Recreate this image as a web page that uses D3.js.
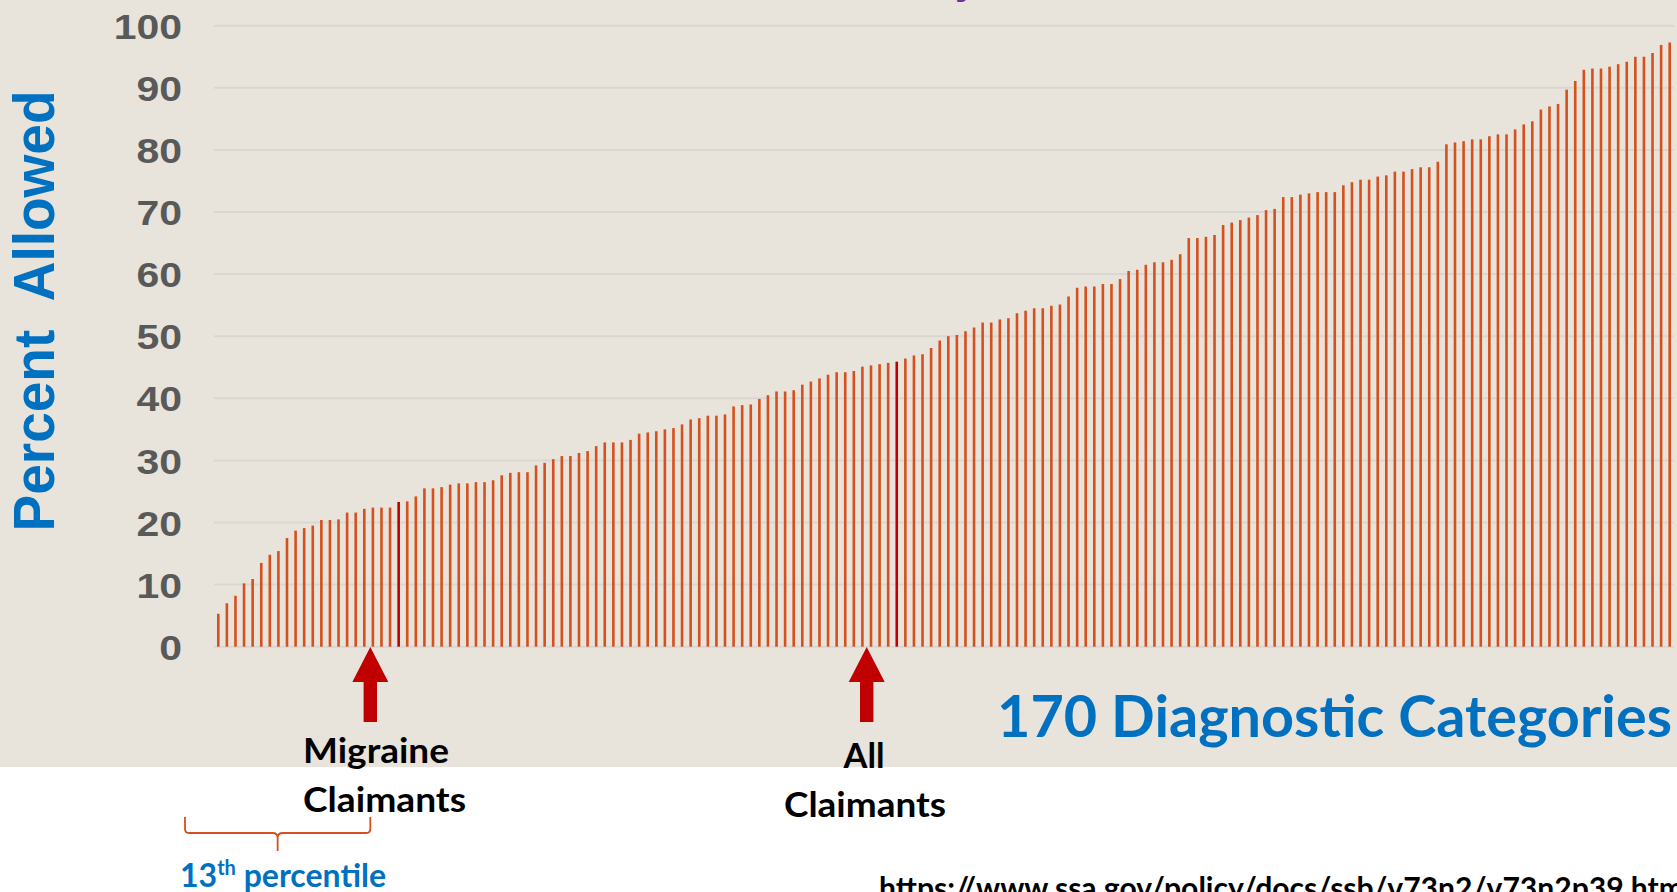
<!DOCTYPE html>
<html>
<head>
<meta charset="utf-8">
<script src="https://cdn.jsdelivr.net/npm/d3@7"></script>
<style>
  html, body { margin: 0; padding: 0; background: #ffffff; }
  svg { display: block; }
</style>
</head>
<body>
<svg id="chart" width="1677" height="892"></svg>

<script>
// percent allowed for each of the 170 diagnostic categories, sorted low to high
var values = [
  5.3, 7.0, 8.2, 10.2, 10.9, 13.5, 14.8, 15.4, 17.5, 18.7,
  19.1, 19.5, 20.4, 20.4, 20.5, 21.6, 21.6, 22.2, 22.4, 22.4,
  22.4, 23.3, 23.4, 24.2, 25.5, 25.5, 25.7, 26.1, 26.3, 26.3,
  26.5, 26.5, 26.8, 27.6, 28.0, 28.1, 28.1, 29.2, 29.6, 30.2,
  30.7, 30.7, 31.2, 31.5, 32.3, 32.9, 32.9, 32.9, 33.3, 34.3,
  34.5, 34.7, 35.0, 35.2, 35.8, 36.6, 36.8, 37.2, 37.2, 37.4,
  38.7, 38.9, 39.0, 39.9, 40.5, 41.1, 41.1, 41.3, 42.2, 42.7,
  43.2, 43.8, 44.2, 44.2, 44.4, 45.1, 45.3, 45.5, 45.7, 45.9,
  46.4, 46.9, 47.1, 48.1, 49.3, 50.0, 50.2, 50.8, 51.4, 52.2,
  52.2, 52.7, 52.9, 53.7, 54.1, 54.5, 54.5, 54.9, 55.1, 56.4,
  57.8, 58.0, 58.0, 58.4, 58.4, 59.2, 60.5, 60.7, 61.5, 61.9,
  61.9, 62.3, 63.2, 65.8, 65.8, 66.0, 66.3, 67.9, 68.3, 68.7,
  69.1, 69.5, 70.3, 70.5, 72.4, 72.4, 72.8, 73.0, 73.2, 73.2,
  73.2, 74.3, 74.8, 75.2, 75.2, 75.7, 75.9, 76.5, 76.5, 76.9,
  77.2, 77.2, 78.1, 80.9, 81.2, 81.4, 81.7, 81.7, 82.2, 82.5,
  82.5, 83.3, 84.1, 84.6, 86.5, 87.0, 87.4, 89.7, 91.1, 92.9,
  93.1, 93.1, 93.4, 93.8, 94.2, 95.0, 95.0, 95.6, 96.9, 97.3
]
var categories = values.map(function(d, i) { return i + 1 }) // rank of each category
var highlighted = [22, 80]          // ranks drawn in dark red
var yTicks = [0, 10, 20, 30, 40, 50, 60, 70, 80, 90, 100]
var markers = [
  { rank: 18.7, lines: ["Migraine", "Claimants"] },
  { rank: 76.5, lines: ["All", "Claimants"] }
]

var svg = d3.select("#chart")

var left = 214, right = 1674
var x = d3.scaleBand().domain(categories).range([left, right]).padding(0)
var y = d3.scaleLinear().domain([0, 100]).range([646.7, 25.7])
var barW = 2.6

// beige panel
svg.append("rect")
  .attr("x", 0).attr("y", 0)
  .attr("width", 1677).attr("height", 767)
  .attr("fill", "#e8e4dc")

// bit of the cut-off title
svg.append("text")
  .attr("x", 955).attr("y", -6)
  .attr("fill", "#7030a0")
  .style("font", "bold 40px 'Liberation Sans', Arial, sans-serif")
  .text("y")

// gridlines
svg.append("g")
  .selectAll("line")
  .data(yTicks)
  .enter()
  .append("line")
  .attr("x1", left).attr("x2", right)
  .attr("y1", function(d) { return y(d) })
  .attr("y2", function(d) { return y(d) })
  .attr("stroke", "#d9d7d3")
  .attr("stroke-width", 2)

// y axis labels
var yAxis = svg.append("g")
  .attr("transform", "translate(" + left + ",0)")
  .call(d3.axisLeft(y).tickValues(yTicks).tickSize(0).tickPadding(0))
yAxis.select(".domain").remove()
yAxis.selectAll("text")
  .attr("x", -32 / 1.17)
  .attr("dy", "0.36em")
  .attr("transform", "scale(1.17,1)")
  .attr("fill", "#595959")
  .style("font", "bold 35px 'Liberation Sans', Arial, sans-serif")

// bars
svg.append("g")
  .selectAll("rect")
  .data(values)
  .enter()
  .append("rect")
  .attr("x", function(d, i) { return x(categories[i]) + x.bandwidth() / 2 - barW / 2 })
  .attr("y", function(d) { return y(d) })
  .attr("width", barW)
  .attr("height", function(d) { return y(0) - y(d) })
  .attr("fill", function(d, i) {
    return highlighted.indexOf(categories[i]) >= 0 ? "#c00000" : "#d5501d"
  })

// y axis title (two spaces between the words, as in the slide)
svg.append("text")
  .attr("transform", "translate(54,311) rotate(-90)")
  .attr("text-anchor", "middle")
  .attr("fill", "#0070c0")
  .attr("textLength", 441)
  .attr("lengthAdjust", "spacingAndGlyphs")
  .style("white-space", "pre")
  .style("font", "bold 58px 'Liberation Sans', Arial, sans-serif")
  .text("Percent  Allowed")

// arrows under the axis
function rankX(r) { return left + x.step() * (r - 0.5) }
var arrow = svg.append("g")
markers.forEach(function(m) {
  var cx = rankX(m.rank)
  var tip = 647, base = 682, bottom = 722, hw = 18, sw = 6.7
  arrow.append("path")
    .attr("d", "M" + cx + "," + tip +
      "L" + (cx + hw) + "," + base +
      "L" + (cx + sw) + "," + base +
      "L" + (cx + sw) + "," + bottom +
      "L" + (cx - sw) + "," + bottom +
      "L" + (cx - sw) + "," + base +
      "L" + (cx - hw) + "," + base + "Z")
    .attr("fill", "#c00000")
})

var calibri = "'Lato', 'Open Sans', sans-serif"

// Migraine Claimants (left aligned)
svg.append("text").attr("x", 303).attr("y", 763)
  .attr("textLength", 146).attr("lengthAdjust", "spacingAndGlyphs")
  .style("font", "bold 34px " + calibri).text(markers[0].lines[0])
svg.append("text").attr("x", 303).attr("y", 812)
  .attr("textLength", 163).attr("lengthAdjust", "spacingAndGlyphs")
  .style("font", "bold 34px " + calibri).text(markers[0].lines[1])

// All Claimants (centred)
svg.append("text").attr("x", 864).attr("y", 767.5).attr("text-anchor", "middle")
  .attr("textLength", 41).attr("lengthAdjust", "spacingAndGlyphs")
  .style("font", "bold 34px " + calibri).text(markers[1].lines[0])
svg.append("text").attr("x", 865).attr("y", 816.7).attr("text-anchor", "middle")
  .attr("textLength", 162).attr("lengthAdjust", "spacingAndGlyphs")
  .style("font", "bold 34px " + calibri).text(markers[1].lines[1])

// x axis caption
svg.append("text").attr("x", 997).attr("y", 736.7)
  .attr("fill", "#0070c0")
  .attr("textLength", 675).attr("lengthAdjust", "spacingAndGlyphs")
  .style("font", "bold 58px " + calibri)
  .text(categories.length + " Diagnostic Categories")

// brace over the lowest categories
var bx0 = left - 29, bx1 = rankX(markers[0].rank), bm = (bx0 + bx1) / 2
svg.append("path")
  .attr("d",
    "M" + bx0 + ",817 L" + bx0 + ",829 Q" + bx0 + ",833 " + (bx0 + 4) + ",833" +
    " L" + (bm - 5) + ",833 Q" + bm + ",833 " + bm + ",838 L" + bm + ",851" +
    " M" + bm + ",838 Q" + bm + ",833 " + (bm + 5) + ",833" +
    " L" + (bx1 - 4) + ",833 Q" + bx1 + ",833 " + bx1 + ",829 L" + bx1 + ",817")
  .attr("fill", "none")
  .attr("stroke", "#d5501d")
  .attr("stroke-width", 1.8)

var pct = svg.append("text").attr("x", 180).attr("y", 887)
  .attr("fill", "#0070c0")
  .style("font", "bold 32px " + calibri)
pct.append("tspan").text("13")
pct.append("tspan").attr("dy", -12).style("font-size", "20px").text("th")
pct.append("tspan").attr("dy", 12).text(" percentile")

// source link, cut by the bottom edge
svg.append("text").attr("x", 879).attr("y", 899)
  .attr("textLength", 805).attr("lengthAdjust", "spacingAndGlyphs")
  .style("font", "bold 30px " + calibri)
  .text("https://www.ssa.gov/policy/docs/ssb/v73n2/v73n2p39.htm")
</script>
</body>
</html>
